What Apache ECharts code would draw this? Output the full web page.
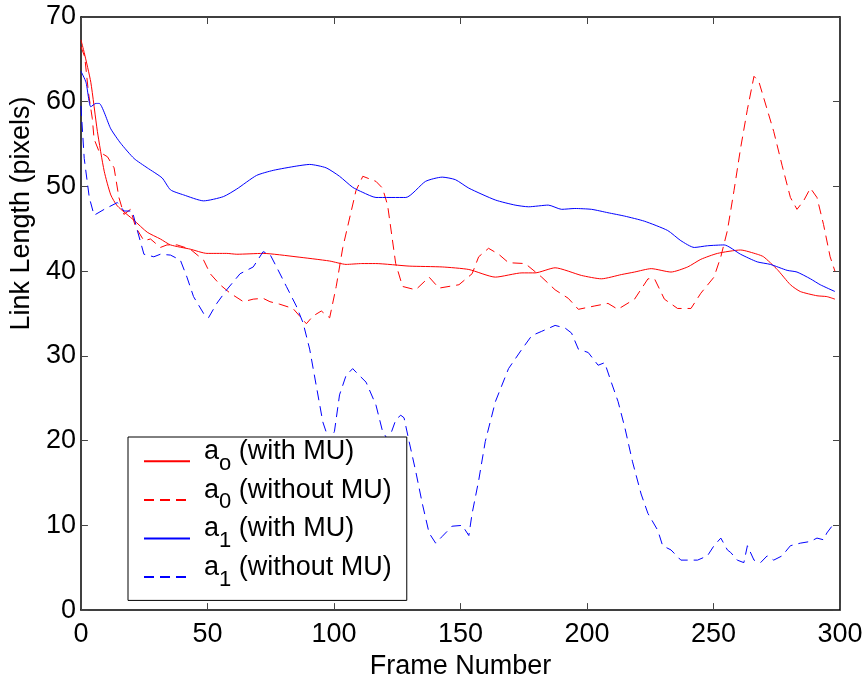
<!DOCTYPE html>
<html><head><meta charset="utf-8">
<script src="https://cdn.jsdelivr.net/npm/echarts@6/dist/echarts.min.js"></script>
<style>html,body{margin:0;padding:0;background:#fff}#c{width:866px;height:685px}</style>
</head><body><div id="c"></div>
<script>
const FONT = '"Liberation Sans", Arial, Helvetica, sans-serif';
const xTicks = [0, 50, 100, 150, 200, 250, 300];
const yTicks = [0, 10, 20, 30, 40, 50, 60, 70];
const xTitle = 'Frame Number';
const yTitle = 'Link Length (pixels)';

const seriesNames = ['a_o (with MU)', 'a_0 (without MU)', 'a_1 (with MU)', 'a_1 (without MU)'];
const legendSubs = ['o', '0', '1', '1'];
const legendRests = [' (with MU)', ' (without MU)', ' (with MU)', ' (without MU)'];

// a_o with MU (red solid)
const a0MuFrames = [0,1.3,3.9,6.5,9.2,11.8,14.4,21,26.2,31.4,35.4,43.2,49.8,57.6,61.6,72,85,98.3,104.8,111,116.5,129.7,142.8,153.3,163.8,174.3,179.5,187.4,197.8,205.7,213.6,218.8,225.4,233.2,239.8,245,251.6,260.7,267.3,269.8,275.2,280.4,284.3,290.9,294.8,298];
const a0MuValues = [67.3,65.8,62.3,56.5,51.8,49,47.7,46,44.6,43.8,43.1,42.6,42.1,42.1,42.0,42.1,41.7,41.2,40.8,40.9,40.9,40.6,40.5,40.2,39.3,39.8,39.8,40.4,39.5,39.1,39.6,39.9,40.3,39.9,40.5,41.4,42.1,42.5,42.0,41.7,40.2,38.4,37.6,37.1,37.0,36.7];

// a_0 without MU (red dashed)
const a0NoFrames = [0,1.5,3,4.5,5.2,7.2,10.5,13.1,15,17,19.6,21.6,24.9,27.5,31.4,34,38,43.2,48.5,51.1,55,59,64.2,68.1,72,74.7,78.6,83.8,89.1,91.7,95,98.3,100.9,103.5,108.7,111.4,116.6,119.2,121.2,124.4,127.1,132.3,137.6,141.5,149.4,154.6,157.2,161.1,165.1,169,175.6,182.1,187.4,192.6,196.6,203.1,208.3,212.2,218.8,224.1,226.7,230.6,235.8,241.1,245,250.2,252.9,255.5,258.1,260.7,263.4,266,267.9,271.2,273.8,277.1,280.4,283,285.6,288.3,290.9,293.5,296.1,298];
const a0NoValues = [66.5,65.3,61,58,55.6,54.1,53.5,52.2,48.7,46.7,47.3,45.2,43.6,43.8,42.8,43.1,43.1,42.6,41.3,39.7,38.4,37.4,36.4,36.7,36.8,36.4,36.1,35.6,33.8,34.7,35.3,34.5,38.2,42.8,49.5,51.2,50.6,49.8,47.8,40.9,38.2,37.8,39.3,38.0,38.4,39.7,41.7,42.7,42.0,41.0,40.9,39.3,37.8,36.8,35.5,35.9,36.2,35.5,36.7,39.1,39.1,36.7,35.6,35.6,37.4,39.3,41.7,44.8,49.5,54.5,59.1,63.0,62.4,59.1,56.5,52.5,48.7,47.3,48.3,49.8,48.7,45.5,41.7,40];

// a_1 with MU (blue solid)
const a1MuFrames = [0,2,3.9,5.9,7.2,11.8,15.7,21,26.2,32.1,35.4,40.6,48.5,56.3,61.6,69.4,76,85.1,90.4,96.9,102.2,107.4,111.4,116.6,128.4,136.2,142.8,148,153.3,163.8,171.6,176.9,184.7,190,195.2,201.8,208.3,214.9,222.7,231.9,237.1,242.4,247.6,254.2,260.7,267.3,272.5,279.1,283,288.3,292.2,298];
const a1MuValues = [63.6,62.3,59.4,59.8,59.8,56.8,55.1,53.3,52.2,51,49.6,49.0,48.3,48.8,49.7,51.3,51.9,52.4,52.6,52.2,51.2,49.9,49.3,48.7,48.7,50.6,51.1,50.8,49.8,48.4,47.8,47.6,47.8,47.3,47.4,47.3,46.9,46.5,45.9,44.8,43.6,42.8,43.0,43.1,42.0,41.1,40.8,40.1,39.9,39.1,38.4,37.6];

// a_1 without MU (blue dashed)
const a1NoFrames = [0,1.3,3.3,5.2,9.2,14.4,17,20.3,22.3,24.9,28.8,31.4,35.4,39.3,41.9,44.5,48.5,50.4,53.7,57.6,62.9,68.1,72,74.7,77.3,81.2,85.1,87.8,90.4,93,95.6,98.3,100.2,102.2,104.8,107.4,110,112.7,116.6,119.2,121.5,124.5,126.4,127.7,129.7,132.3,134.9,137.6,140.2,142.8,146.7,150.7,153.3,154.6,157.2,159.8,163.8,169,174.3,178.2,182.1,187.4,191.3,193.9,196.6,200.5,204.4,207,209.6,212.3,215,218,221.4,224.1,228,229.9,233.2,237.1,239.8,243.7,247.6,250.2,252.9,255.5,256.8,259.4,262,263.4,266,268.6,271.2,273.8,277.1,280.4,284.3,288.3,290.9,293.5,294.8,296.8,298];
const a1NoValues = [59.5,53.3,48.7,46.6,47.3,48.1,47.1,47.1,44.8,42.0,41.7,42.0,41.9,41.3,39.3,37.0,35.0,34.5,36.2,37.8,39.7,40.5,42.3,42.0,40.5,38.2,35.9,33.9,30.8,26.5,22.2,19.8,21.1,25.4,27.7,28.5,27.7,26.9,24.2,21.1,20,22.5,23.0,22.7,19.9,16.4,12.6,9.1,7.9,8.7,9.9,10.0,8.8,11.4,15.3,19.9,24.6,28.5,30.8,32.4,32.9,33.6,33.3,32.7,30.8,30.4,28.9,29.2,26.9,24.6,21.5,17.5,13.7,11.4,9.4,7.6,7.1,5.9,5.9,5.9,6.4,7.6,8.5,7.1,6.8,5.9,5.6,7.6,5.9,5.6,6.4,5.9,6.4,7.6,7.9,8.1,8.5,8.3,9.1,9.9,10];

function zip(xs, ys) { return xs.map((x, i) => [x, ys[i]]); }

const RED = '#ff0000', BLUE = '#0000ff';
function mk(name, xs, ys, color, dashed) {
  return {
    name, type: 'line', data: zip(xs, ys), symbol: 'none', smooth: dashed ? false : 0.2,
    lineStyle: { color, width: 1, type: dashed ? [10, 6] : 'solid' },
    itemStyle: { color }, silent: true, clip: true
  };
}

const chart = echarts.init(document.getElementById('c'), null, { renderer: 'canvas' });
const axisCommon = {
  type: 'value', min: 0,
  axisLine: { show: true, onZero: false, lineStyle: { color: '#000', width: 1.5 } },
  axisTick: { show: true, inside: true, length: 7, lineStyle: { color: '#444', width: 1 } },
  splitLine: { show: false }
};
chart.setOption({
  animation: false,
  backgroundColor: '#fff',
  grid: { left: 77, right: 26, top: 17, bottom: 67, containLabel: false },
  xAxis: [
    Object.assign({}, axisCommon, {
      max: 300, interval: 50, position: 'bottom',
      name: xTitle, nameLocation: 'middle', nameGap: 38,
      nameTextStyle: { fontSize: 27, color: '#000', fontFamily: FONT },
      axisLabel: { fontSize: 27, color: '#000', fontFamily: FONT, margin: 11,
        formatter: v => xTicks.includes(v) ? String(v) : '' }
    }),
    Object.assign({}, axisCommon, { max: 300, interval: 50, position: 'top', axisLabel: { show: false } })
  ],
  yAxis: [
    Object.assign({}, axisCommon, {
      max: 70, interval: 10, position: 'left',
      name: yTitle, nameLocation: 'middle', nameGap: 39,
      nameTextStyle: { fontSize: 27, color: '#000', fontFamily: FONT, padding: [0, 0, 0, 200] },
      axisLabel: { fontSize: 27, color: '#000', fontFamily: FONT, margin: 5,
        formatter: v => yTicks.includes(v) ? String(v) : '' }
    }),
    Object.assign({}, axisCommon, { max: 70, interval: 10, position: 'right', axisLabel: { show: false } })
  ],
  legend: {
    show: true, orient: 'vertical', left: 128, top: 437,
    selectedMode: false,
    data: seriesNames,
    itemWidth: 46, itemHeight: 14, itemGap: -8,
    padding: [1, 15, 0, 15],
    itemStyle: { opacity: 0 },
    backgroundColor: '#fff', borderColor: '#000', borderWidth: 1, borderRadius: 0,
    formatter: name => {
      const i = seriesNames.indexOf(name);
      return '{m|a}{s|' + legendSubs[i] + '}{m|' + legendRests[i] + '}';
    },
    textStyle: {
      color: '#000', fontFamily: FONT, padding: [0, 0, 0, 9],
      rich: {
        m: { fontSize: 27, lineHeight: 46.6, padding: [0, 0, 19.6, 0], verticalAlign: 'top', fontFamily: FONT, color: '#000' },
        s: { fontSize: 22, lineHeight: 22, padding: [14.8, 0, 9.8, 0], verticalAlign: 'top', fontFamily: FONT, color: '#000' }
      }
    }
  },
  series: [
    mk(seriesNames[0], a0MuFrames, a0MuValues, RED, false),
    mk(seriesNames[1], a0NoFrames, a0NoValues, RED, true),
    mk(seriesNames[2], a1MuFrames, a1MuValues, BLUE, false),
    mk(seriesNames[3], a1NoFrames, a1NoValues, BLUE, true)
  ]
});
</script></body></html>
